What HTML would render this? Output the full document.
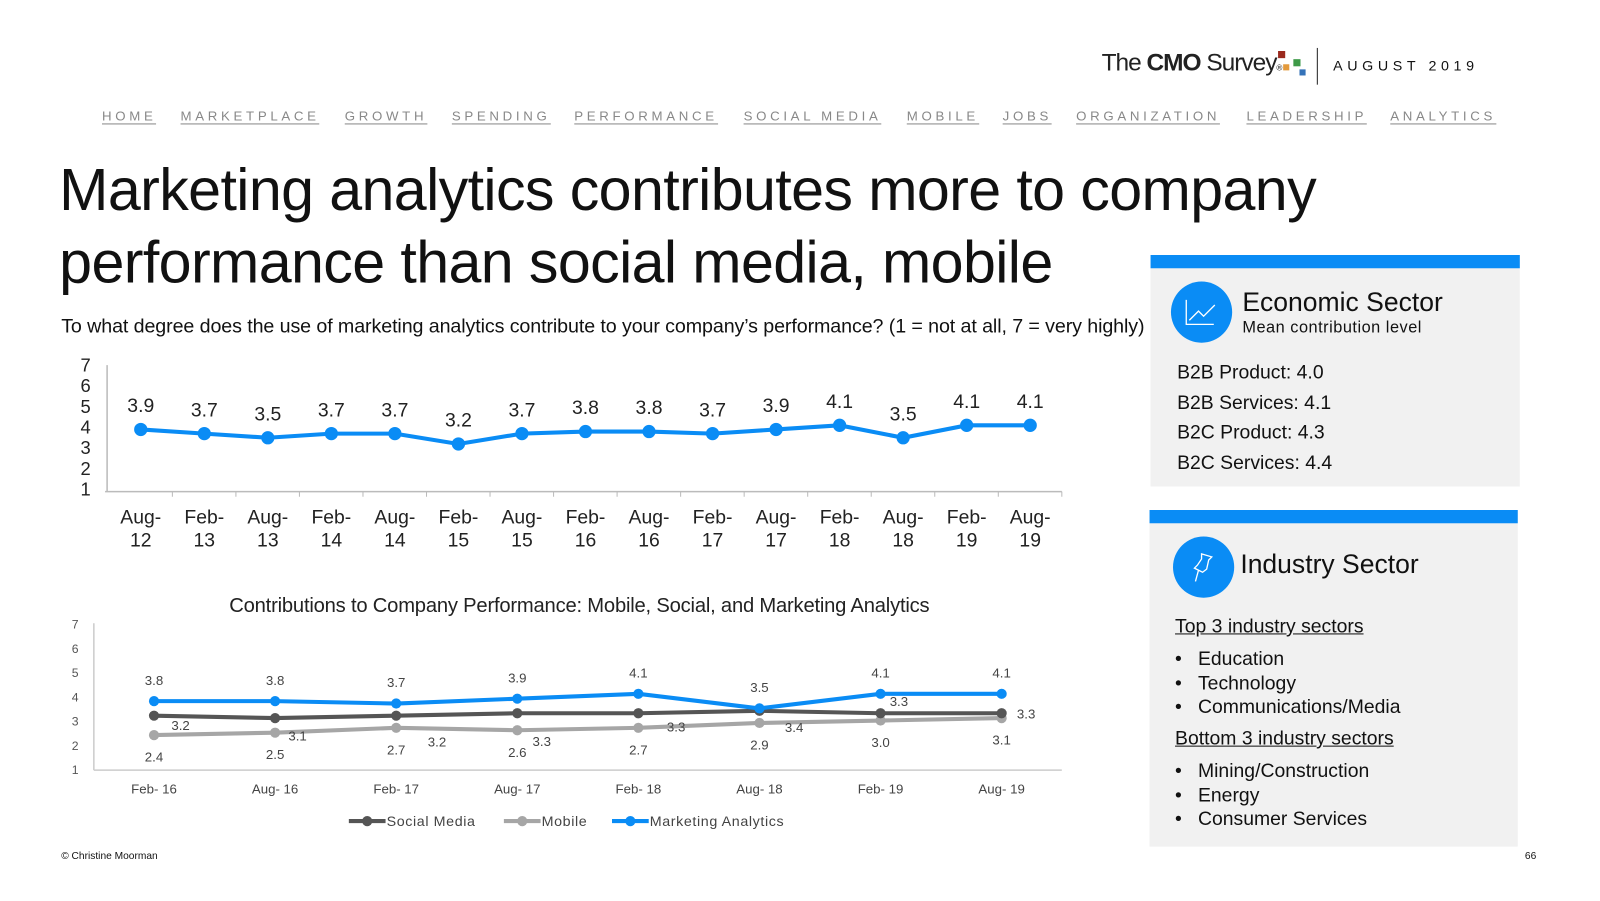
<!DOCTYPE html>
<html><head><meta charset="utf-8"><style>
body{margin:0;width:1600px;height:900px;background:#fff;font-family:"Liberation Sans",sans-serif;position:relative;overflow:hidden;color:#111}
#wrap{position:absolute;left:0;top:0;width:1570px;height:883px;transform:scale(1.02);transform-origin:0 0}
.a{position:absolute;white-space:nowrap}
.nav{position:absolute;top:106px;font-size:13px;letter-spacing:3.6px;color:#888;border-bottom:1px solid #888;line-height:15px}
.panel{position:absolute;background:#f1f1f1;border-top:13px solid #0a8cf5}
.circ{position:absolute;width:60px;height:60px;border-radius:50%;background:#0a8cf5}
</style></head><body><div id="wrap">
<div class="a" style="left:1080px;top:48px;font-size:24px;letter-spacing:-1px;color:#222">The <b>CMO</b> Survey<span style="font-size:8px">®</span></div>
<div class="a" style="left:1253px;top:50px;width:7px;height:7px;background:#9b2a1e"></div>
<div class="a" style="left:1258px;top:63px;width:6px;height:6px;background:#e39a3c"></div>
<div class="a" style="left:1268px;top:58px;width:7px;height:7px;background:#3e9a48"></div>
<div class="a" style="left:1274px;top:68px;width:6px;height:6px;background:#3573b9"></div>
<div class="a" style="left:1291px;top:47px;width:1px;height:36px;background:#222"></div>
<div class="a" style="left:1307px;top:56px;font-size:14px;letter-spacing:4.5px">AUGUST 2019</div>
<div class="nav" style="left:100px">HOME</div>
<div class="nav" style="left:177px">MARKETPLACE</div>
<div class="nav" style="left:338px">GROWTH</div>
<div class="nav" style="left:443px">SPENDING</div>
<div class="nav" style="left:563px">PERFORMANCE</div>
<div class="nav" style="left:729px">SOCIAL MEDIA</div>
<div class="nav" style="left:889px">MOBILE</div>
<div class="nav" style="left:983px">JOBS</div>
<div class="nav" style="left:1055px">ORGANIZATION</div>
<div class="nav" style="left:1222px">LEADERSHIP</div>
<div class="nav" style="left:1363px">ANALYTICS</div>
<div class="a" style="left:58px;top:151px;font-size:58px;line-height:71px;letter-spacing:-0.6px">Marketing analytics contributes more to company<br>performance than social media, mobile</div>
<div class="a" style="left:60px;top:310px;font-size:19.3px;letter-spacing:-0.1px">To what degree does the use of marketing analytics contribute to your company’s performance? (1 = not at all, 7 = very highly)</div>

<div class="panel" style="left:1128px;top:250px;width:362px;height:214px"></div>
<div class="circ" style="left:1148px;top:276px"><svg width="60" height="60"><path d="M15 18V42H42M18 38L27 29L32 34L43 23" stroke="#fff" stroke-width="1.3" fill="none"/></svg></div>
<div class="a" style="left:1218px;top:281px;font-size:26px">Economic Sector</div>
<div class="a" style="left:1218px;top:313px;font-size:16px;letter-spacing:0.5px">Mean contribution level</div>
<div class="a" style="left:1154px;top:351px;font-size:19px;line-height:29.5px">B2B Product: 4.0<br>B2B Services: 4.1<br>B2C Product: 4.3<br>B2C Services: 4.4</div>

<div class="panel" style="left:1127px;top:500px;width:361px;height:317px"></div>
<div class="circ" style="left:1150px;top:526px"><svg width="60" height="60"><path d="M28 17L38 20L35 23L33 32L29 35L21 31L24 28L28 22ZM25 33L22 44" stroke="#fff" stroke-width="1.3" fill="none"/></svg></div>
<div class="a" style="left:1216px;top:538px;font-size:26px">Industry Sector</div>
<div class="a" style="left:1152px;top:604px;font-size:19px;text-decoration:underline">Top 3 industry sectors</div>
<div class="a" style="left:1152px;top:635px;font-size:19px;line-height:23.5px">•&nbsp;&nbsp;&nbsp;Education<br>•&nbsp;&nbsp;&nbsp;Technology<br>•&nbsp;&nbsp;&nbsp;Communications/Media</div>
<div class="a" style="left:1152px;top:714px;font-size:19px;text-decoration:underline">Bottom 3 industry sectors</div>
<div class="a" style="left:1152px;top:745px;font-size:19px;line-height:23.5px">•&nbsp;&nbsp;&nbsp;Mining/Construction<br>•&nbsp;&nbsp;&nbsp;Energy<br>•&nbsp;&nbsp;&nbsp;Consumer Services</div>
<div class="a" style="left:60px;top:834px;font-size:10px">© Christine Moorman</div>
<div class="a" style="left:1495px;top:834px;font-size:10px">66</div>

<svg id="c" width="1570" height="883" style="position:absolute;left:0;top:0" font-family="Liberation Sans, sans-serif"></svg>
</div>
<script>
const topCats=["Aug-|12","Feb-|13","Aug-|13","Feb-|14","Aug-|14","Feb-|15","Aug-|15","Feb-|16","Aug-|16","Feb-|17","Aug-|17","Feb-|18","Aug-|18","Feb-|19","Aug-|19"];
const topVals=[3.9,3.7,3.5,3.7,3.7,3.2,3.7,3.8,3.8,3.7,3.9,4.1,3.5,4.1,4.1];
const yTicks=[1,2,3,4,5,6,7];
const botCats=["Feb- 16","Aug- 16","Feb- 17","Aug- 17","Feb- 18","Aug- 18","Feb- 19","Aug- 19"];
const socialVals=[3.2,3.1,3.2,3.3,3.3,3.4,3.3,3.3];
const mobileVals=[2.4,2.5,2.7,2.6,2.7,2.9,3.0,3.1];
const analyticsVals=[3.8,3.8,3.7,3.9,4.1,3.5,4.1,4.1];
const svg=document.getElementById('c');const NS="http://www.w3.org/2000/svg";
function mk(t,a,txt){const e=document.createElementNS(NS,t);for(const k in a)e.setAttribute(k,a[k]);if(txt!=null)e.textContent=txt;svg.appendChild(e);return e;}
const tx=i=>138+i*(1010-138)/(topCats.length-1), ty=v=>480-(v-1)*20.33;
let e=mk('path',{d:'M105 358V482M103 482H1041',stroke:'#bbb','stroke-width':1.5,fill:'none'});


yTicks.forEach(v=>{const t=mk('text',{x:89,y:ty(v)+6,'font-size':18,'text-anchor':'end',fill:'#222'},v);

});
topCats.forEach((c,i)=>{const p=c.split('|');
const t=mk('text',{x:tx(i),y:513,'font-size':19,'text-anchor':'middle',fill:'#222'},p[0]);


mk('text',{x:tx(i),y:536,'font-size':19,'text-anchor':'middle',fill:'#222'},p[1]);
mk('line',{x1:tx(i)+31,x2:tx(i)+31,y1:482,y2:487,stroke:'#bbb'});});
e=mk('polyline',{points:topVals.map((v,i)=>tx(i)+','+ty(v)).join(' '),fill:'none',stroke:'#0a8cf5','stroke-width':4});


topVals.forEach((v,i)=>{const c=mk('circle',{cx:tx(i),cy:ty(v),r:6.5,fill:'#0a8cf5'});


const l=mk('text',{x:tx(i),y:ty(v)-17,'font-size':19,'text-anchor':'middle',fill:'#222'},v.toFixed(1));

});
const bx=i=>151+i*(982-151)/(botCats.length-1), by=v=>754-(v-1)*23.8;
e=mk('text',{x:568,y:600,'font-size':19.8,'text-anchor':'middle',fill:'#222','letter-spacing':-0.2},'Contributions to Company Performance: Mobile, Social, and Marketing Analytics');


e=mk('path',{d:'M92 611V755M92 755H1041',stroke:'#ccc','stroke-width':1.5,fill:'none'});


yTicks.forEach(v=>{const t=mk('text',{x:77,y:by(v)+5,'font-size':12,'text-anchor':'end',fill:'#555'},v);

});
botCats.forEach((c,i)=>{const t=mk('text',{x:bx(i),y:778,'font-size':13,'text-anchor':'middle',fill:'#444'},c);

});
const socialDx=[26,22,40,24,37,34,18,24], socialDy=[14,22,30,32,18,21,-7,5];
function series(vals,color,name,lab){
 const l=mk('polyline',{points:vals.map((v,i)=>bx(i)+','+by(v)).join(' '),fill:'none',stroke:color,'stroke-width':4});
 
 
 vals.forEach((v,i)=>{const c=mk('circle',{cx:bx(i),cy:by(v),r:5,fill:color});
 
 
 const p=lab(i,v);const t=mk('text',{x:p[0],y:p[1],'font-size':13,'text-anchor':'middle',fill:'#444'},v.toFixed(1));
 
 });
}
series(mobileVals,'#a6a6a6','mobile',(i,v)=>[bx(i),by(v)+26]);
series(socialVals,'#555','social-media',(i,v)=>[bx(i)+socialDx[i],by(v)+socialDy[i]]);
series(analyticsVals,'#0a8cf5','marketing-analytics',(i,v)=>[bx(i),by(v)-16]);
const legend=[["Social Media","#555",342],["Mobile","#a6a6a6",494],["Marketing Analytics","#0a8cf5",600]];
legend.forEach(l=>{mk('line',{x1:l[2],x2:l[2]+36,y1:805,y2:805,stroke:l[1],'stroke-width':4});
mk('circle',{cx:l[2]+18,cy:805,r:5,fill:l[1]});
const t=mk('text',{x:l[2]+37,y:810,'font-size':14,fill:'#444','letter-spacing':0.6},l[0]);

});
</script>
</body></html>
